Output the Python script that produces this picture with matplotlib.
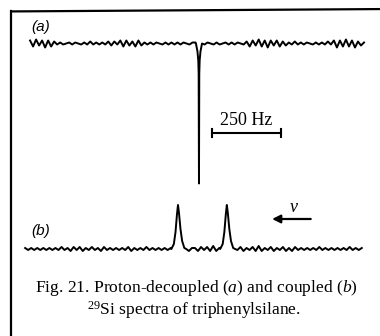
import numpy as np
import matplotlib
matplotlib.use("Agg")
import matplotlib.pyplot as plt
from matplotlib.lines import Line2D

plt.rcParams['mathtext.fontset'] = 'custom'
plt.rcParams['mathtext.rm'] = 'Liberation Serif'
plt.rcParams['mathtext.it'] = 'Liberation Serif:italic'

# ---- data (Hz along x, intensity in arbitrary units) ----
# (a) proton-decoupled: one sharp line, drawn downward
a_range = (-612, 598)
a_peak_hz = 0
a_peak_off = [-11, -5.4, -2.5, -1.1, 0, 1.1, 2.5, 5.4, 11]
a_peak_amp = [0, -8, -17, -30, -140, -30, -17, -8, 0]
a_noise = [3, -3, 4, -2, 3, -4, 3, -3, 2, -1,
           1, -1, 0, 1, -1, 1, 0, -1, 1, -1, 2, -1, 1,
           -1, 1, -1, 2, -2, 2, -1, 3, -3, 3, -2, 2, -3, 3, -2, 1, -1,
           1, -1, 1, 0, -1, 1, -1, 1, -1, 1, -1, 1, 0, -1, 1,
           1, -1, 1, -1, 1, 0, -1, 1, -1, 0, 1, -1, 1, -1, 1, 0, -1,
           2, -3, 3, -2, 4, -3, 3, -4, 3, -2, 3, -3, 2, -2, 1, -1, 2,
           -1, 1, -1, 1, 0, -1, 1, -1, 1, -1, 2, -1,
           3, -4, 3, -3, 4, -3, 3, -4, 2, -2, 1]

# (b) proton-coupled: Si-H doublet
b_range = (-630, 590)
b_peaks_hz = [-76, 101]
b_peak_off = [-24, -15, -9, -3.6, 0, 3.6, 9, 15, 23, 30]
b_peak_amp = [0, 5, 17, 35, 44, 36, 20, 8, 1, 0]
b_noise = [1, -1, 1, -1, 1, -1, 1, -1, 1, -1, 1, -1,
           2, -1, 1, -2, 2, -1, 2, -2, 1, -1, 2, -1, 1, -2, 2, -1, 1, -1, 1, -1,
           1, -1, 2, -2, 1, -1, 1, -1, 2, -1, 1, -1, 1, -1, 1, -1, 1,
           0, -1, 0, 1, 0, -2, 1,
           1, -2, 2, -1, 2, -2, 3, -2, 1, -1, 2, -1,
           0, 1, -1,
           2, -2, 1, -1, 2, -2, 3, -2, 1, -1, 2, -2, 1, -1, 2, -2, 1, -2, 2, -1, 1, -1,
           1, -1, 1, -1, 2, -1, 1, -1, 1, -1, 1, -1, 1, -1, 2, -1, 1, -1, 1]

scale_hz = 250
scale_start = 47


def build_trace(noise, xr, centers, off, amp):
    x = list(np.linspace(xr[0], xr[1], len(noise)))
    y = list(noise)
    for c in centers:
        keep = [(xi, yi) for xi, yi in zip(x, y) if not (c + off[0] <= xi <= c + off[-1])]
        x = [k[0] for k in keep] + [c + o for o in off]
        y = [k[1] for k in keep] + list(amp)
    order = np.argsort(x)
    return np.array(x)[order], np.array(y)[order]


fig = plt.figure(figsize=(3.8, 3.36), dpi=100)
ax = fig.add_axes([0, 0, 1, 1])
ax.set_xlim(-721, 656)
ax.set_ylim(0, 336)
ax.axis('off')

xa, ya = build_trace(a_noise, a_range, [a_peak_hz], a_peak_off, a_peak_amp)
ax.plot(xa, ya + 292.5, color='black', lw=1.4)

xb, yb = build_trace(b_noise, b_range, b_peaks_hz, b_peak_off, b_peak_amp)
ax.plot(xb, yb + 87, color='black', lw=1.4)

# scale bar
ax.plot([scale_start, scale_start + scale_hz], [203, 203], color='black', lw=1.5)
for xe in (scale_start, scale_start + scale_hz):
    ax.plot([xe, xe], [199, 207], color='black', lw=1.5)
ax.text(scale_start + scale_hz / 2, 207, '250 Hz', ha='center', va='bottom',
        family='Liberation Serif', fontsize=13)

# frequency arrow
ax.annotate('', xy=(255, 117), xytext=(415, 117),
            arrowprops=dict(arrowstyle='-|>', color='black', lw=1.6,
                            mutation_scale=12))
ax.text(345, 129, r'$\mathit{\nu}$', ha='center', va='center', fontsize=13)

# trace labels
ax.text(-606, 309, '(a)', ha='left', va='center', family='Liberation Sans',
        style='italic', fontsize=11)
ax.text(-606, 105, '(b)', ha='left', va='center', family='Liberation Sans',
        style='italic', fontsize=11)

# caption
ax.text(-10, 48, r'Fig. 21. Proton-decoupled ($\mathit{a}$) and coupled ($\mathit{b}$)',
        ha='center', va='center', family='Liberation Serif', fontsize=12.6)
ax.text(-20, 26, r'$^{29}$Si spectra of triphenylsilane.',
        ha='center', va='center', family='Liberation Serif', fontsize=12.6)

# frame (left and top edges of the plate)
fig.add_artist(Line2D([0.030, 0.030], [0.0, 0.966], color='black', lw=1.6,
                      transform=fig.transFigure))
fig.add_artist(Line2D([0.030, 1.0], [0.966, 0.973], color='black', lw=1.6,
                      transform=fig.transFigure))

fig.savefig('out.png', dpi=100)
